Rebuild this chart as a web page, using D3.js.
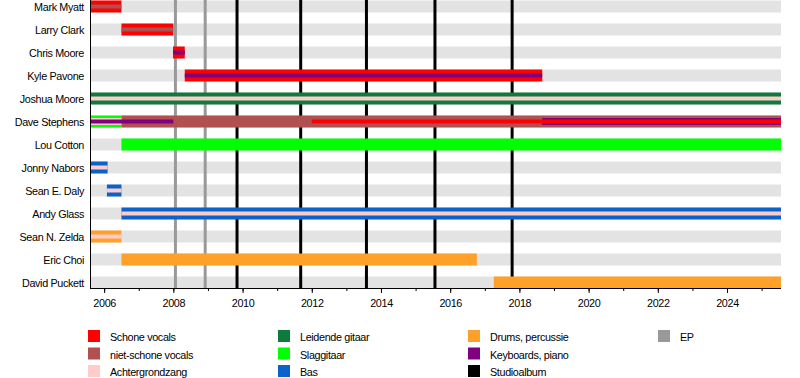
<!DOCTYPE html>
<html><head><meta charset="utf-8">
<script src="https://cdn.jsdelivr.net/npm/d3@7"></script>
<style>
body{margin:0;background:#fff}
svg{display:block}
text{font-family:"Liberation Sans",Arial,sans-serif;font-size:10.8px;letter-spacing:-0.35px;fill:#000}
</style>
</head><body><svg id="c" width="800" height="378"></svg>
<script>
// ---------- data ----------
const members = ["Mark Myatt","Larry Clark","Chris Moore","Kyle Pavone","Joshua Moore","Dave Stephens","Lou Cotton","Jonny Nabors","Sean E. Daly","Andy Glass","Sean N. Zelda","Eric Choi","David Puckett"];
const roles = ["vocals","harsh","backing","lead","rhythm","bass","drums","keys","studio","ep"];
const roleLabels = ["Schone vocals","niet-schone vocals","Achtergrondzang","Leidende gitaar","Slaggitaar","Bas","Drums, percussie","Keyboards, piano","Studioalbum","EP"];
const startYear = 2005.62, endYear = 2025.56;
const studioAlbums = [2009.84, 2011.68, 2013.58, 2015.56, 2017.79];
const eps = [2008.06, 2008.92];
const tickYears = [2006,2007,2008,2009,2010,2011,2012,2013,2014,2015,2016,2017,2018,2019,2020,2021,2022,2023,2024,2025];
const labelYears = [2006,2008,2010,2012,2014,2016,2018,2020,2022,2024];
// member, role, from, to, layer ("full" bar, "wide" stripe, "inner" stripe)
const bars = [
  ["Mark Myatt","vocals",startYear,2006.5,"full"],
  ["Mark Myatt","harsh",startYear,2006.5,"inner"],
  ["Larry Clark","vocals",2006.5,2008.0,"full"],
  ["Larry Clark","harsh",2006.5,2008.0,"inner"],
  ["Chris Moore","vocals",2007.99,2008.33,"full"],
  ["Chris Moore","keys",2007.99,2008.33,"inner"],
  ["Kyle Pavone","vocals",2008.33,2018.66,"full"],
  ["Kyle Pavone","keys",2008.33,2018.66,"inner"],
  ["Joshua Moore","lead",startYear,endYear,"full"],
  ["Joshua Moore","backing",startYear,endYear,"inner"],
  ["Dave Stephens","rhythm",startYear,2006.5,"full"],
  ["Dave Stephens","backing",startYear,2006.5,"wide"],
  ["Dave Stephens","keys",startYear,2008.0,"inner"],
  ["Dave Stephens","harsh",2006.5,endYear,"full"],
  ["Dave Stephens","keys",2018.66,endYear,"wide"],
  ["Dave Stephens","vocals",2012.0,endYear,"inner"],
  ["Lou Cotton","rhythm",2006.5,endYear,"full"],
  ["Jonny Nabors","bass",startYear,2006.1,"full"],
  ["Jonny Nabors","backing",startYear,2006.1,"inner"],
  ["Sean E. Daly","bass",2006.08,2006.5,"full"],
  ["Sean E. Daly","backing",2006.08,2006.5,"inner"],
  ["Andy Glass","bass",2006.5,endYear,"full"],
  ["Andy Glass","backing",2006.5,endYear,"inner"],
  ["Sean N. Zelda","drums",startYear,2006.5,"full"],
  ["Sean N. Zelda","backing",startYear,2006.5,"inner"],
  ["Eric Choi","drums",2006.5,2016.77,"full"],
  ["David Puckett","drums",2017.26,endYear,"full"]
];

// ---------- styles ----------
const roleColors = ["#ff0000","#b05050","#ffcccc","#0e7a3c","#00ff00","#0b62c8","#ffa028","#800080","#000000","#999999"];
const color = d3.scaleOrdinal().domain(roles).range(roleColors);
const layerHeight = {full:12, wide:7, inner:4};
const layerOrder = {full:0, wide:1, inner:2};

const svg = d3.select("#c");
const x = d3.scaleLinear().domain([startYear, endYear]).range([91, 781]);
const y = d3.scalePoint().domain(members).range([6.5, 282.5]);
const axisY = 288;

// background bands
svg.append("g").selectAll("rect").data(members).join("rect")
  .attr("x", x(startYear)).attr("width", x(endYear) - x(startYear))
  .attr("y", d => y(d) - 6).attr("height", 12)
  .attr("fill", "#e3e3e3");

// release lines
svg.append("g").selectAll("line").data(eps).join("line")
  .attr("x1", d => x(d)).attr("x2", d => x(d)).attr("y1", 0).attr("y2", axisY)
  .attr("stroke", color("ep")).attr("stroke-width", 3);
svg.append("g").selectAll("line").data(studioAlbums).join("line")
  .attr("x1", d => x(d)).attr("x2", d => x(d)).attr("y1", 0).attr("y2", axisY)
  .attr("stroke", color("studio")).attr("stroke-width", 3);

// bars
const sorted = bars.map((b,i)=>({m:b[0], role:b[1], from:b[2], to:b[3], layer:b[4], i}))
  .sort((a,b)=> (layerOrder[a.layer]-layerOrder[b.layer]) || (a.i-b.i));
svg.append("g").selectAll("rect").data(sorted).join("rect")
  .attr("x", d => x(d.from)).attr("width", d => x(d.to) - x(d.from))
  .attr("y", d => y(d.m) - layerHeight[d.layer]/2).attr("height", d => layerHeight[d.layer])
  .attr("fill", d => color(d.role));

// axes
const minor = d3.axisBottom(x).tickValues(tickYears).tickSize(3).tickFormat("");
const major = d3.axisBottom(x).tickValues(labelYears).tickSize(5).tickPadding(6).tickFormat(d3.format("d"));
const gMinor = svg.append("g").attr("transform", `translate(0,${axisY})`).call(minor);
gMinor.select(".domain").remove();
const gMajor = svg.append("g").attr("transform", `translate(0,${axisY})`).call(major);
gMajor.select(".domain").remove();
svg.selectAll(".tick text").attr("font-size", 10.8).attr("font-family", '"Liberation Sans",Arial,sans-serif');
svg.selectAll(".tick line").attr("stroke", "#000");
svg.append("line").attr("x1", 90.5).attr("x2", x(endYear)).attr("y1", axisY + 0.5).attr("y2", axisY + 0.5).attr("stroke", "#000");
svg.append("line").attr("x1", 90.5).attr("x2", 90.5).attr("y1", 0).attr("y2", axisY + 1).attr("stroke", "#000");

// member labels
svg.append("g").selectAll("text").data(members).join("text")
  .attr("x", 84).attr("y", d => y(d) + 4)
  .attr("text-anchor", "end").text(d => d);

// legend
const legendCols = [88, 278, 468, 658];
const legend = svg.append("g").selectAll("g").data(roles).join("g")
  .attr("transform", (d,i) => `translate(${legendCols[Math.floor(i/3)]},${330 + (i%3)*17.5})`);
legend.append("rect").attr("width", 12).attr("height", 12).attr("fill", d => color(d));
legend.append("text").attr("x", 22).attr("y", 11).text((d,i) => roleLabels[i]);
</script>
</body></html>
